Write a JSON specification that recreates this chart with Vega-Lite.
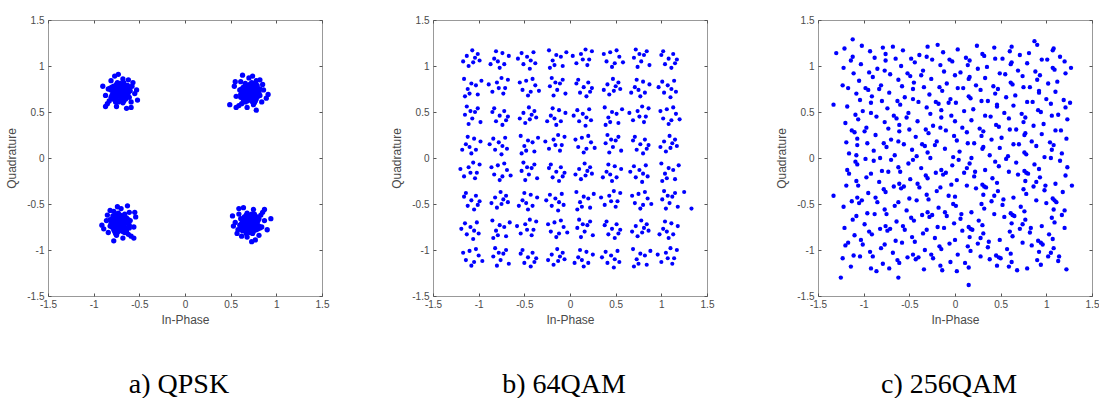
{
"$schema":"https://vega.github.io/schema/vega-lite/v6.json",
"background":"white",
"padding":{"left":5,"top":14,"right":0,"bottom":0},
"spacing":60,
"config":{
"view":{"stroke":"#999999","strokeWidth":1},
"axis":{"grid":false,"domain":false,"ticks":true,"tickColor":"#555555","tickWidth":1,"tickSize":-3,"labelFont":"Liberation Sans","labelFontSize":10,"labelColor":"#4a4a4a","labelFlush":false,"labelOverlap":false,"titleFont":"Liberation Sans","titleFontSize":12,"titleFontWeight":"normal","titleColor":"#4a4a4a"},
"axisX":{"labelPadding":6,"titlePadding":5},
"axisY":{"labelPadding":7,"titlePadding":8}
},
"datasets":{
"q":[
{"x":-0.71,"y":0.71},{"x":-0.67,"y":0.73},{"x":-0.74,"y":0.75},{"x":-0.69,"y":0.65},{"x":-0.77,"y":0.69},{"x":-0.64,"y":0.77},{"x":-0.78,"y":0.78},{"x":-0.65,"y":0.64},{"x":-0.76,"y":0.64},{"x":-0.62,"y":0.71},{"x":-0.80,"y":0.68},{"x":-0.68,"y":0.80},{"x":-0.73,"y":0.61},{"x":-0.61,"y":0.76},{"x":-0.81,"y":0.74},{"x":-0.66,"y":0.68},{"x":-0.74,"y":0.71},{"x":-0.71,"y":0.77},{"x":-0.68,"y":0.76},{"x":-0.77,"y":0.74},{"x":-0.63,"y":0.68},{"x":-0.79,"y":0.64},{"x":-0.70,"y":0.62},{"x":-0.75,"y":0.80},{"x":-0.63,"y":0.79},{"x":-0.65,"y":0.74},{"x":-0.72,"y":0.74},{"x":-0.70,"y":0.72},{"x":-0.80,"y":0.77},{"x":-0.67,"y":0.62},{"x":-0.69,"y":0.69},{"x":-0.73,"y":0.67},{"x":-0.66,"y":0.79},{"x":-0.76,"y":0.76},{"x":-0.63,"y":0.74},{"x":-0.79,"y":0.71},{"x":-0.68,"y":0.60},{"x":-0.74,"y":0.82},{"x":-0.61,"y":0.66},{"x":-0.81,"y":0.66},{"x":-0.71,"y":0.81},{"x":-0.71,"y":0.63},{"x":-0.64,"y":0.66},{"x":-0.78,"y":0.67},{"x":-0.67,"y":0.82},{"x":-0.76,"y":0.61},{"x":-0.60,"y":0.73},{"x":-0.82,"y":0.76},{"x":-0.73,"y":0.78},{"x":-0.65,"y":0.70},{"x":-0.58,"y":0.78},{"x":-0.84,"y":0.75},{"x":-0.59,"y":0.61},{"x":-0.83,"y":0.62},{"x":-0.68,"y":0.86},{"x":-0.75,"y":0.56},{"x":-0.55,"y":0.70},{"x":-0.87,"y":0.68},{"x":-0.62,"y":0.85},{"x":-0.81,"y":0.84},{"x":-0.57,"y":0.82},{"x":-0.85,"y":0.59},{"x":-0.53,"y":0.74},{"x":-0.90,"y":0.78},{"x":-0.64,"y":0.54},{"x":-0.77,"y":0.89},{"x":-0.52,"y":0.63},{"x":-0.87,"y":0.56},{"x":-0.59,"y":0.55},{"x":-0.73,"y":0.91},
{"x":0.71,"y":0.71},{"x":0.73,"y":0.75},{"x":0.75,"y":0.68},{"x":0.65,"y":0.73},{"x":0.69,"y":0.65},{"x":0.77,"y":0.78},{"x":0.78,"y":0.64},{"x":0.64,"y":0.77},{"x":0.64,"y":0.66},{"x":0.71,"y":0.80},{"x":0.68,"y":0.62},{"x":0.80,"y":0.74},{"x":0.61,"y":0.69},{"x":0.76,"y":0.81},{"x":0.74,"y":0.61},{"x":0.68,"y":0.76},{"x":0.71,"y":0.68},{"x":0.77,"y":0.71},{"x":0.76,"y":0.74},{"x":0.74,"y":0.65},{"x":0.68,"y":0.79},{"x":0.64,"y":0.63},{"x":0.62,"y":0.72},{"x":0.80,"y":0.67},{"x":0.79,"y":0.79},{"x":0.74,"y":0.77},{"x":0.74,"y":0.70},{"x":0.72,"y":0.72},{"x":0.77,"y":0.62},{"x":0.62,"y":0.75},{"x":0.69,"y":0.73},{"x":0.67,"y":0.69},{"x":0.79,"y":0.76},{"x":0.76,"y":0.66},{"x":0.74,"y":0.79},{"x":0.71,"y":0.63},{"x":0.60,"y":0.74},{"x":0.82,"y":0.68},{"x":0.66,"y":0.81},{"x":0.66,"y":0.61},{"x":0.81,"y":0.71},{"x":0.63,"y":0.71},{"x":0.66,"y":0.78},{"x":0.67,"y":0.64},{"x":0.82,"y":0.75},{"x":0.61,"y":0.66},{"x":0.73,"y":0.82},{"x":0.76,"y":0.60},{"x":0.78,"y":0.69},{"x":0.70,"y":0.77},{"x":0.78,"y":0.84},{"x":0.75,"y":0.58},{"x":0.61,"y":0.83},{"x":0.62,"y":0.59},{"x":0.86,"y":0.74},{"x":0.56,"y":0.67},{"x":0.70,"y":0.87},{"x":0.68,"y":0.55},{"x":0.85,"y":0.80},{"x":0.84,"y":0.61},{"x":0.82,"y":0.85},{"x":0.59,"y":0.57},{"x":0.74,"y":0.89},{"x":0.78,"y":0.52},{"x":0.54,"y":0.78},{"x":0.89,"y":0.65},{"x":0.63,"y":0.90},{"x":0.56,"y":0.55},{"x":0.55,"y":0.83},{"x":0.91,"y":0.69},{"x":0.49,"y":0.58},
{"x":-0.71,"y":-0.71},{"x":-0.73,"y":-0.67},{"x":-0.75,"y":-0.74},{"x":-0.65,"y":-0.69},{"x":-0.69,"y":-0.77},{"x":-0.77,"y":-0.64},{"x":-0.78,"y":-0.78},{"x":-0.64,"y":-0.65},{"x":-0.64,"y":-0.76},{"x":-0.71,"y":-0.62},{"x":-0.68,"y":-0.80},{"x":-0.80,"y":-0.68},{"x":-0.61,"y":-0.73},{"x":-0.76,"y":-0.61},{"x":-0.74,"y":-0.81},{"x":-0.68,"y":-0.66},{"x":-0.71,"y":-0.74},{"x":-0.77,"y":-0.71},{"x":-0.76,"y":-0.68},{"x":-0.74,"y":-0.77},{"x":-0.68,"y":-0.63},{"x":-0.64,"y":-0.79},{"x":-0.62,"y":-0.70},{"x":-0.80,"y":-0.75},{"x":-0.79,"y":-0.63},{"x":-0.74,"y":-0.65},{"x":-0.74,"y":-0.72},{"x":-0.72,"y":-0.70},{"x":-0.77,"y":-0.80},{"x":-0.62,"y":-0.67},{"x":-0.69,"y":-0.69},{"x":-0.67,"y":-0.73},{"x":-0.79,"y":-0.66},{"x":-0.76,"y":-0.76},{"x":-0.74,"y":-0.63},{"x":-0.71,"y":-0.79},{"x":-0.60,"y":-0.68},{"x":-0.82,"y":-0.74},{"x":-0.66,"y":-0.61},{"x":-0.66,"y":-0.81},{"x":-0.81,"y":-0.71},{"x":-0.63,"y":-0.71},{"x":-0.66,"y":-0.64},{"x":-0.67,"y":-0.78},{"x":-0.82,"y":-0.67},{"x":-0.61,"y":-0.76},{"x":-0.73,"y":-0.60},{"x":-0.76,"y":-0.82},{"x":-0.78,"y":-0.73},{"x":-0.70,"y":-0.65},{"x":-0.78,"y":-0.58},{"x":-0.75,"y":-0.84},{"x":-0.61,"y":-0.59},{"x":-0.62,"y":-0.83},{"x":-0.86,"y":-0.68},{"x":-0.56,"y":-0.75},{"x":-0.70,"y":-0.55},{"x":-0.68,"y":-0.87},{"x":-0.85,"y":-0.62},{"x":-0.84,"y":-0.81},{"x":-0.82,"y":-0.57},{"x":-0.59,"y":-0.85},{"x":-0.74,"y":-0.53},{"x":-0.78,"y":-0.90},{"x":-0.54,"y":-0.64},{"x":-0.89,"y":-0.77},{"x":-0.63,"y":-0.52},{"x":-0.56,"y":-0.87},{"x":-0.55,"y":-0.59},{"x":-0.91,"y":-0.73},
{"x":0.71,"y":-0.71},{"x":0.67,"y":-0.73},{"x":0.74,"y":-0.75},{"x":0.69,"y":-0.65},{"x":0.77,"y":-0.69},{"x":0.64,"y":-0.77},{"x":0.78,"y":-0.78},{"x":0.65,"y":-0.64},{"x":0.76,"y":-0.64},{"x":0.62,"y":-0.71},{"x":0.80,"y":-0.68},{"x":0.68,"y":-0.80},{"x":0.73,"y":-0.61},{"x":0.61,"y":-0.76},{"x":0.81,"y":-0.74},{"x":0.66,"y":-0.68},{"x":0.74,"y":-0.71},{"x":0.71,"y":-0.77},{"x":0.68,"y":-0.76},{"x":0.77,"y":-0.74},{"x":0.63,"y":-0.68},{"x":0.79,"y":-0.64},{"x":0.70,"y":-0.62},{"x":0.75,"y":-0.80},{"x":0.63,"y":-0.79},{"x":0.65,"y":-0.74},{"x":0.72,"y":-0.74},{"x":0.70,"y":-0.72},{"x":0.80,"y":-0.77},{"x":0.67,"y":-0.62},{"x":0.69,"y":-0.69},{"x":0.73,"y":-0.67},{"x":0.66,"y":-0.79},{"x":0.76,"y":-0.76},{"x":0.63,"y":-0.74},{"x":0.79,"y":-0.71},{"x":0.68,"y":-0.60},{"x":0.74,"y":-0.82},{"x":0.61,"y":-0.66},{"x":0.81,"y":-0.66},{"x":0.71,"y":-0.81},{"x":0.71,"y":-0.63},{"x":0.64,"y":-0.66},{"x":0.78,"y":-0.67},{"x":0.67,"y":-0.82},{"x":0.76,"y":-0.61},{"x":0.60,"y":-0.73},{"x":0.82,"y":-0.76},{"x":0.73,"y":-0.78},{"x":0.65,"y":-0.70},{"x":0.58,"y":-0.78},{"x":0.84,"y":-0.75},{"x":0.59,"y":-0.61},{"x":0.83,"y":-0.62},{"x":0.68,"y":-0.86},{"x":0.75,"y":-0.56},{"x":0.55,"y":-0.70},{"x":0.87,"y":-0.68},{"x":0.62,"y":-0.85},{"x":0.81,"y":-0.84},{"x":0.57,"y":-0.82},{"x":0.85,"y":-0.59},{"x":0.53,"y":-0.74},{"x":0.90,"y":-0.78},{"x":0.64,"y":-0.54},{"x":0.77,"y":-0.89},{"x":0.52,"y":-0.63},{"x":0.87,"y":-0.56},{"x":0.59,"y":-0.55},{"x":0.73,"y":-0.91},{"x":0.94,"y":-0.66}
],
"m":[
{"x":-1.13,"y":1.11},{"x":-1.06,"y":1.04},{"x":-1.01,"y":1.13},{"x":-1.11,"y":1.00},{"x":-0.99,"y":1.06},{"x":-1.17,"y":1.05},{"x":-1.07,"y":1.17},{"x":-1.04,"y":1.09},
{"x":-0.74,"y":1.14},{"x":-0.83,"y":1.08},{"x":-0.72,"y":1.02},{"x":-0.79,"y":1.05},{"x":-0.67,"y":1.11},{"x":-0.81,"y":1.16},{"x":-0.77,"y":0.98},{"x":-0.87,"y":1.02},
{"x":-0.53,"y":1.14},{"x":-0.40,"y":1.15},{"x":-0.47,"y":1.10},{"x":-0.38,"y":1.03},{"x":-0.51,"y":1.02},{"x":-0.43,"y":1.06},{"x":-0.57,"y":1.08},{"x":-0.44,"y":0.97},
{"x":-0.15,"y":1.12},{"x":-0.08,"y":1.00},{"x":-0.23,"y":1.17},{"x":-0.19,"y":1.06},{"x":-0.10,"y":1.10},{"x":-0.04,"y":1.15},{"x":-0.17,"y":1.01},{"x":-0.22,"y":0.98},
{"x":0.21,"y":1.07},{"x":0.12,"y":1.13},{"x":0.07,"y":1.03},{"x":0.17,"y":1.18},{"x":0.19,"y":1.01},{"x":0.14,"y":1.07},{"x":0.24,"y":1.16},{"x":0.03,"y":1.11},
{"x":0.44,"y":1.15},{"x":0.54,"y":1.10},{"x":0.40,"y":1.05},{"x":0.49,"y":1.03},{"x":0.37,"y":1.13},{"x":0.51,"y":1.17},{"x":0.46,"y":0.99},{"x":0.58,"y":1.04},
{"x":0.78,"y":1.05},{"x":0.72,"y":1.18},{"x":0.84,"y":1.16},{"x":0.70,"y":1.09},{"x":0.81,"y":1.12},{"x":0.74,"y":0.99},{"x":0.87,"y":1.01},{"x":0.76,"y":1.13},
{"x":1.13,"y":1.13},{"x":1.04,"y":1.02},{"x":1.17,"y":1.07},{"x":1.00,"y":1.12},{"x":1.08,"y":1.08},{"x":1.11,"y":0.98},{"x":1.02,"y":1.16},{"x":1.15,"y":1.03},
{"x":-1.08,"y":0.81},{"x":-1.01,"y":0.69},{"x":-1.16,"y":0.86},{"x":-1.12,"y":0.75},{"x":-1.03,"y":0.79},{"x":-0.97,"y":0.84},{"x":-1.10,"y":0.70},{"x":-1.15,"y":0.67},
{"x":-0.71,"y":0.76},{"x":-0.80,"y":0.82},{"x":-0.85,"y":0.72},{"x":-0.75,"y":0.87},{"x":-0.73,"y":0.70},{"x":-0.78,"y":0.76},{"x":-0.68,"y":0.85},{"x":-0.89,"y":0.80},
{"x":-0.48,"y":0.84},{"x":-0.38,"y":0.79},{"x":-0.52,"y":0.74},{"x":-0.43,"y":0.72},{"x":-0.55,"y":0.82},{"x":-0.41,"y":0.86},{"x":-0.46,"y":0.68},{"x":-0.34,"y":0.73},
{"x":-0.14,"y":0.74},{"x":-0.20,"y":0.87},{"x":-0.08,"y":0.85},{"x":-0.22,"y":0.78},{"x":-0.11,"y":0.81},{"x":-0.18,"y":0.68},{"x":-0.05,"y":0.70},{"x":-0.16,"y":0.82},
{"x":0.20,"y":0.82},{"x":0.11,"y":0.71},{"x":0.24,"y":0.76},{"x":0.07,"y":0.81},{"x":0.15,"y":0.77},{"x":0.18,"y":0.67},{"x":0.09,"y":0.85},{"x":0.22,"y":0.72},
{"x":0.41,"y":0.80},{"x":0.48,"y":0.73},{"x":0.53,"y":0.82},{"x":0.43,"y":0.69},{"x":0.55,"y":0.75},{"x":0.37,"y":0.74},{"x":0.47,"y":0.86},{"x":0.50,"y":0.78},
{"x":0.80,"y":0.83},{"x":0.71,"y":0.77},{"x":0.82,"y":0.71},{"x":0.75,"y":0.74},{"x":0.87,"y":0.80},{"x":0.73,"y":0.85},{"x":0.77,"y":0.67},{"x":0.67,"y":0.71},
{"x":1.01,"y":0.83},{"x":1.14,"y":0.84},{"x":1.07,"y":0.79},{"x":1.16,"y":0.72},{"x":1.03,"y":0.71},{"x":1.11,"y":0.75},{"x":0.97,"y":0.77},{"x":1.10,"y":0.66},
{"x":-1.07,"y":0.43},{"x":-1.13,"y":0.56},{"x":-1.01,"y":0.54},{"x":-1.15,"y":0.47},{"x":-1.04,"y":0.50},{"x":-1.11,"y":0.37},{"x":-0.98,"y":0.39},{"x":-1.09,"y":0.51},
{"x":-0.72,"y":0.51},{"x":-0.81,"y":0.40},{"x":-0.68,"y":0.45},{"x":-0.85,"y":0.50},{"x":-0.77,"y":0.46},{"x":-0.74,"y":0.36},{"x":-0.83,"y":0.54},{"x":-0.70,"y":0.41},
{"x":-0.51,"y":0.49},{"x":-0.44,"y":0.42},{"x":-0.39,"y":0.51},{"x":-0.49,"y":0.38},{"x":-0.37,"y":0.44},{"x":-0.55,"y":0.43},{"x":-0.45,"y":0.55},{"x":-0.42,"y":0.47},
{"x":-0.12,"y":0.52},{"x":-0.21,"y":0.46},{"x":-0.10,"y":0.40},{"x":-0.17,"y":0.43},{"x":-0.05,"y":0.49},{"x":-0.19,"y":0.54},{"x":-0.15,"y":0.36},{"x":-0.25,"y":0.40},
{"x":0.08,"y":0.52},{"x":0.21,"y":0.53},{"x":0.14,"y":0.48},{"x":0.23,"y":0.41},{"x":0.10,"y":0.40},{"x":0.18,"y":0.44},{"x":0.04,"y":0.46},{"x":0.17,"y":0.35},
{"x":0.46,"y":0.50},{"x":0.53,"y":0.38},{"x":0.38,"y":0.55},{"x":0.42,"y":0.44},{"x":0.51,"y":0.48},{"x":0.57,"y":0.53},{"x":0.44,"y":0.39},{"x":0.39,"y":0.36},
{"x":0.83,"y":0.45},{"x":0.74,"y":0.51},{"x":0.69,"y":0.41},{"x":0.79,"y":0.56},{"x":0.81,"y":0.39},{"x":0.76,"y":0.45},{"x":0.86,"y":0.54},{"x":0.65,"y":0.49},
{"x":1.06,"y":0.53},{"x":1.16,"y":0.48},{"x":1.02,"y":0.43},{"x":1.11,"y":0.41},{"x":0.99,"y":0.51},{"x":1.13,"y":0.55},{"x":1.08,"y":0.37},{"x":1.20,"y":0.42},
{"x":-1.05,"y":0.21},{"x":-1.14,"y":0.15},{"x":-1.03,"y":0.09},{"x":-1.10,"y":0.12},{"x":-0.98,"y":0.18},{"x":-1.12,"y":0.23},{"x":-1.08,"y":0.05},{"x":-1.18,"y":0.09},
{"x":-0.84,"y":0.21},{"x":-0.71,"y":0.22},{"x":-0.78,"y":0.17},{"x":-0.69,"y":0.10},{"x":-0.82,"y":0.09},{"x":-0.74,"y":0.13},{"x":-0.88,"y":0.15},{"x":-0.75,"y":0.04},
{"x":-0.46,"y":0.19},{"x":-0.39,"y":0.07},{"x":-0.54,"y":0.24},{"x":-0.50,"y":0.13},{"x":-0.41,"y":0.17},{"x":-0.35,"y":0.22},{"x":-0.48,"y":0.08},{"x":-0.53,"y":0.05},
{"x":-0.09,"y":0.14},{"x":-0.18,"y":0.20},{"x":-0.23,"y":0.10},{"x":-0.13,"y":0.25},{"x":-0.11,"y":0.08},{"x":-0.16,"y":0.14},{"x":-0.06,"y":0.23},{"x":-0.27,"y":0.18},
{"x":0.13,"y":0.22},{"x":0.23,"y":0.17},{"x":0.09,"y":0.12},{"x":0.18,"y":0.10},{"x":0.06,"y":0.20},{"x":0.20,"y":0.24},{"x":0.15,"y":0.06},{"x":0.27,"y":0.11},
{"x":0.47,"y":0.12},{"x":0.41,"y":0.25},{"x":0.53,"y":0.23},{"x":0.39,"y":0.16},{"x":0.50,"y":0.19},{"x":0.43,"y":0.06},{"x":0.56,"y":0.08},{"x":0.45,"y":0.20},
{"x":0.82,"y":0.20},{"x":0.73,"y":0.09},{"x":0.86,"y":0.14},{"x":0.69,"y":0.19},{"x":0.77,"y":0.15},{"x":0.80,"y":0.05},{"x":0.71,"y":0.23},{"x":0.84,"y":0.10},
{"x":1.03,"y":0.18},{"x":1.10,"y":0.11},{"x":1.15,"y":0.20},{"x":1.05,"y":0.07},{"x":1.17,"y":0.13},{"x":0.99,"y":0.12},{"x":1.09,"y":0.24},{"x":1.12,"y":0.16},
{"x":-1.02,"y":-0.16},{"x":-1.11,"y":-0.10},{"x":-1.16,"y":-0.20},{"x":-1.06,"y":-0.05},{"x":-1.04,"y":-0.22},{"x":-1.09,"y":-0.16},{"x":-0.99,"y":-0.07},{"x":-1.20,"y":-0.12},
{"x":-0.79,"y":-0.08},{"x":-0.69,"y":-0.13},{"x":-0.83,"y":-0.18},{"x":-0.74,"y":-0.20},{"x":-0.86,"y":-0.10},{"x":-0.72,"y":-0.06},{"x":-0.77,"y":-0.24},{"x":-0.65,"y":-0.19},
{"x":-0.45,"y":-0.18},{"x":-0.51,"y":-0.05},{"x":-0.39,"y":-0.07},{"x":-0.53,"y":-0.14},{"x":-0.42,"y":-0.11},{"x":-0.49,"y":-0.24},{"x":-0.36,"y":-0.22},{"x":-0.47,"y":-0.10},
{"x":-0.10,"y":-0.10},{"x":-0.19,"y":-0.21},{"x":-0.06,"y":-0.16},{"x":-0.23,"y":-0.11},{"x":-0.15,"y":-0.15},{"x":-0.12,"y":-0.25},{"x":-0.21,"y":-0.07},{"x":-0.08,"y":-0.20},
{"x":0.10,"y":-0.12},{"x":0.17,"y":-0.19},{"x":0.22,"y":-0.10},{"x":0.12,"y":-0.23},{"x":0.24,"y":-0.17},{"x":0.06,"y":-0.18},{"x":0.16,"y":-0.06},{"x":0.19,"y":-0.14},
{"x":0.49,"y":-0.09},{"x":0.40,"y":-0.15},{"x":0.51,"y":-0.21},{"x":0.44,"y":-0.18},{"x":0.56,"y":-0.12},{"x":0.42,"y":-0.07},{"x":0.46,"y":-0.25},{"x":0.36,"y":-0.21},
{"x":0.70,"y":-0.09},{"x":0.83,"y":-0.08},{"x":0.76,"y":-0.13},{"x":0.85,"y":-0.20},{"x":0.72,"y":-0.21},{"x":0.80,"y":-0.17},{"x":0.66,"y":-0.15},{"x":0.79,"y":-0.26},
{"x":1.08,"y":-0.11},{"x":1.15,"y":-0.23},{"x":1.00,"y":-0.06},{"x":1.04,"y":-0.17},{"x":1.13,"y":-0.13},{"x":1.19,"y":-0.08},{"x":1.06,"y":-0.22},{"x":1.01,"y":-0.25},
{"x":-1.03,"y":-0.41},{"x":-1.12,"y":-0.52},{"x":-0.99,"y":-0.47},{"x":-1.16,"y":-0.42},{"x":-1.08,"y":-0.46},{"x":-1.05,"y":-0.56},{"x":-1.14,"y":-0.38},{"x":-1.01,"y":-0.51},
{"x":-0.82,"y":-0.43},{"x":-0.75,"y":-0.50},{"x":-0.70,"y":-0.41},{"x":-0.80,"y":-0.54},{"x":-0.68,"y":-0.48},{"x":-0.86,"y":-0.49},{"x":-0.76,"y":-0.37},{"x":-0.73,"y":-0.45},
{"x":-0.43,"y":-0.40},{"x":-0.52,"y":-0.46},{"x":-0.41,"y":-0.52},{"x":-0.48,"y":-0.49},{"x":-0.36,"y":-0.43},{"x":-0.50,"y":-0.38},{"x":-0.46,"y":-0.56},{"x":-0.56,"y":-0.52},
{"x":-0.22,"y":-0.40},{"x":-0.09,"y":-0.39},{"x":-0.16,"y":-0.44},{"x":-0.07,"y":-0.51},{"x":-0.20,"y":-0.52},{"x":-0.12,"y":-0.48},{"x":-0.26,"y":-0.46},{"x":-0.13,"y":-0.57},
{"x":0.15,"y":-0.42},{"x":0.22,"y":-0.54},{"x":0.07,"y":-0.37},{"x":0.11,"y":-0.48},{"x":0.20,"y":-0.44},{"x":0.26,"y":-0.39},{"x":0.13,"y":-0.53},{"x":0.08,"y":-0.56},
{"x":0.52,"y":-0.47},{"x":0.43,"y":-0.41},{"x":0.38,"y":-0.51},{"x":0.48,"y":-0.36},{"x":0.50,"y":-0.53},{"x":0.45,"y":-0.47},{"x":0.55,"y":-0.38},{"x":0.34,"y":-0.43},
{"x":0.75,"y":-0.39},{"x":0.85,"y":-0.44},{"x":0.71,"y":-0.49},{"x":0.80,"y":-0.51},{"x":0.68,"y":-0.41},{"x":0.82,"y":-0.37},{"x":0.77,"y":-0.55},{"x":0.89,"y":-0.50},
{"x":1.09,"y":-0.49},{"x":1.03,"y":-0.36},{"x":1.15,"y":-0.38},{"x":1.01,"y":-0.45},{"x":1.12,"y":-0.42},{"x":1.05,"y":-0.55},{"x":1.18,"y":-0.53},{"x":1.07,"y":-0.41},{"x":1.33,"y":-0.55},{"x":1.25,"y":-0.37},
{"x":-1.15,"y":-0.71},{"x":-1.02,"y":-0.70},{"x":-1.09,"y":-0.75},{"x":-1.00,"y":-0.82},{"x":-1.13,"y":-0.83},{"x":-1.05,"y":-0.79},{"x":-1.19,"y":-0.77},{"x":-1.06,"y":-0.88},
{"x":-0.77,"y":-0.73},{"x":-0.70,"y":-0.85},{"x":-0.85,"y":-0.68},{"x":-0.81,"y":-0.79},{"x":-0.72,"y":-0.75},{"x":-0.66,"y":-0.70},{"x":-0.79,"y":-0.84},{"x":-0.84,"y":-0.87},
{"x":-0.40,"y":-0.78},{"x":-0.49,"y":-0.72},{"x":-0.54,"y":-0.82},{"x":-0.44,"y":-0.67},{"x":-0.42,"y":-0.84},{"x":-0.47,"y":-0.78},{"x":-0.37,"y":-0.69},{"x":-0.58,"y":-0.74},
{"x":-0.17,"y":-0.70},{"x":-0.07,"y":-0.75},{"x":-0.21,"y":-0.80},{"x":-0.12,"y":-0.82},{"x":-0.24,"y":-0.72},{"x":-0.10,"y":-0.68},{"x":-0.15,"y":-0.86},{"x":-0.03,"y":-0.81},
{"x":0.16,"y":-0.80},{"x":0.10,"y":-0.67},{"x":0.22,"y":-0.69},{"x":0.08,"y":-0.76},{"x":0.19,"y":-0.73},{"x":0.12,"y":-0.86},{"x":0.25,"y":-0.84},{"x":0.14,"y":-0.72},
{"x":0.51,"y":-0.72},{"x":0.42,"y":-0.83},{"x":0.55,"y":-0.78},{"x":0.38,"y":-0.73},{"x":0.46,"y":-0.77},{"x":0.49,"y":-0.87},{"x":0.40,"y":-0.69},{"x":0.53,"y":-0.82},
{"x":0.72,"y":-0.74},{"x":0.79,"y":-0.81},{"x":0.84,"y":-0.72},{"x":0.74,"y":-0.85},{"x":0.86,"y":-0.79},{"x":0.68,"y":-0.80},{"x":0.78,"y":-0.68},{"x":0.81,"y":-0.76},
{"x":1.11,"y":-0.71},{"x":1.02,"y":-0.77},{"x":1.13,"y":-0.83},{"x":1.06,"y":-0.80},{"x":1.18,"y":-0.74},{"x":1.04,"y":-0.69},{"x":1.08,"y":-0.87},{"x":0.98,"y":-0.83},
{"x":-1.10,"y":-1.01},{"x":-1.00,"y":-1.06},{"x":-1.14,"y":-1.11},{"x":-1.05,"y":-1.13},{"x":-1.17,"y":-1.03},{"x":-1.03,"y":-0.99},{"x":-1.08,"y":-1.17},{"x":-0.96,"y":-1.12},
{"x":-0.76,"y":-1.11},{"x":-0.82,"y":-0.98},{"x":-0.70,"y":-1.00},{"x":-0.84,"y":-1.07},{"x":-0.73,"y":-1.04},{"x":-0.80,"y":-1.17},{"x":-0.67,"y":-1.15},{"x":-0.78,"y":-1.03},
{"x":-0.41,"y":-1.03},{"x":-0.50,"y":-1.14},{"x":-0.37,"y":-1.09},{"x":-0.54,"y":-1.04},{"x":-0.46,"y":-1.08},{"x":-0.43,"y":-1.18},{"x":-0.52,"y":-1.00},{"x":-0.39,"y":-1.13},
{"x":-0.20,"y":-1.05},{"x":-0.13,"y":-1.12},{"x":-0.08,"y":-1.03},{"x":-0.18,"y":-1.16},{"x":-0.06,"y":-1.10},{"x":-0.24,"y":-1.11},{"x":-0.14,"y":-0.99},{"x":-0.11,"y":-1.07},
{"x":0.18,"y":-1.02},{"x":0.09,"y":-1.08},{"x":0.20,"y":-1.14},{"x":0.13,"y":-1.11},{"x":0.25,"y":-1.05},{"x":0.11,"y":-1.00},{"x":0.15,"y":-1.18},{"x":0.05,"y":-1.14},
{"x":0.39,"y":-1.02},{"x":0.52,"y":-1.01},{"x":0.45,"y":-1.06},{"x":0.54,"y":-1.13},{"x":0.41,"y":-1.14},{"x":0.49,"y":-1.10},{"x":0.35,"y":-1.08},{"x":0.48,"y":-1.19},
{"x":0.77,"y":-1.04},{"x":0.84,"y":-1.16},{"x":0.69,"y":-0.99},{"x":0.73,"y":-1.10},{"x":0.82,"y":-1.06},{"x":0.88,"y":-1.01},{"x":0.75,"y":-1.15},{"x":0.70,"y":-1.18},
{"x":1.14,"y":-1.09},{"x":1.05,"y":-1.03},{"x":1.00,"y":-1.13},{"x":1.10,"y":-0.98},{"x":1.12,"y":-1.15},{"x":1.07,"y":-1.09},{"x":1.17,"y":-1.00},{"x":0.96,"y":-1.05}
],
"s":[
{"x":-1.12,"y":1.10},{"x":-1.21,"y":1.19},{"x":-1.02,"y":1.22},{"x":-0.93,"y":1.16},{"x":-0.79,"y":1.20},{"x":-0.88,"y":1.09},{"x":-0.76,"y":1.13},{"x":-0.68,"y":1.21},{"x":-0.48,"y":1.08},{"x":-0.57,"y":1.17},{"x":-0.39,"y":1.12},{"x":-0.30,"y":1.21},{"x":-0.19,"y":1.23},{"x":-0.31,"y":1.10},{"x":-0.13,"y":1.15},{"x":-0.06,"y":1.07},
{"x":0.03,"y":1.18},{"x":0.12,"y":1.09},{"x":0.30,"y":1.13},{"x":0.24,"y":1.22},{"x":0.43,"y":1.20},{"x":0.32,"y":1.11},{"x":0.52,"y":1.08},{"x":0.60,"y":1.16},{"x":0.62,"y":1.21},{"x":0.71,"y":1.12},{"x":0.81,"y":1.14},{"x":0.90,"y":1.23},{"x":1.08,"y":1.19},{"x":0.95,"y":1.07},{"x":1.15,"y":1.10},{"x":1.07,"y":1.17},
{"x":-1.22,"y":0.98},{"x":-1.14,"y":1.06},{"x":-0.94,"y":0.93},{"x":-1.03,"y":1.02},{"x":-0.85,"y":0.97},{"x":-0.76,"y":1.06},{"x":-0.65,"y":1.08},{"x":-0.77,"y":0.95},{"x":-0.59,"y":1.00},{"x":-0.52,"y":0.92},{"x":-0.35,"y":0.95},{"x":-0.44,"y":1.04},{"x":-0.25,"y":1.07},{"x":-0.16,"y":1.01},{"x":-0.03,"y":1.05},{"x":-0.12,"y":0.94},
{"x":0.06,"y":0.93},{"x":0.14,"y":1.01},{"x":0.16,"y":1.06},{"x":0.25,"y":0.97},{"x":0.35,"y":0.99},{"x":0.44,"y":1.08},{"x":0.62,"y":1.04},{"x":0.49,"y":0.92},{"x":0.69,"y":0.95},{"x":0.61,"y":1.02},{"x":0.79,"y":1.03},{"x":0.88,"y":0.94},{"x":1.07,"y":0.98},{"x":1.01,"y":1.07},{"x":1.20,"y":1.05},{"x":1.09,"y":0.96},
{"x":-1.11,"y":0.92},{"x":-1.23,"y":0.79},{"x":-1.05,"y":0.84},{"x":-0.98,"y":0.76},{"x":-0.81,"y":0.79},{"x":-0.90,"y":0.88},{"x":-0.71,"y":0.91},{"x":-0.62,"y":0.85},{"x":-0.49,"y":0.89},{"x":-0.58,"y":0.78},{"x":-0.45,"y":0.82},{"x":-0.37,"y":0.90},{"x":-0.17,"y":0.77},{"x":-0.26,"y":0.86},{"x":-0.09,"y":0.81},{"x":0.00,"y":0.90},
{"x":0.16,"y":0.88},{"x":0.03,"y":0.76},{"x":0.23,"y":0.79},{"x":0.15,"y":0.86},{"x":0.33,"y":0.87},{"x":0.42,"y":0.78},{"x":0.61,"y":0.82},{"x":0.55,"y":0.91},{"x":0.74,"y":0.89},{"x":0.63,"y":0.80},{"x":0.82,"y":0.77},{"x":0.90,"y":0.85},{"x":0.93,"y":0.90},{"x":1.02,"y":0.81},{"x":1.12,"y":0.83},{"x":1.21,"y":0.92},
{"x":-1.17,"y":0.76},{"x":-1.08,"y":0.70},{"x":-0.95,"y":0.74},{"x":-1.04,"y":0.63},{"x":-0.91,"y":0.67},{"x":-0.83,"y":0.75},{"x":-0.63,"y":0.62},{"x":-0.72,"y":0.71},{"x":-0.55,"y":0.66},{"x":-0.46,"y":0.75},{"x":-0.34,"y":0.77},{"x":-0.46,"y":0.64},{"x":-0.28,"y":0.69},{"x":-0.21,"y":0.61},{"x":-0.05,"y":0.64},{"x":-0.14,"y":0.73},
{"x":0.15,"y":0.67},{"x":0.09,"y":0.76},{"x":0.28,"y":0.74},{"x":0.17,"y":0.65},{"x":0.36,"y":0.62},{"x":0.44,"y":0.70},{"x":0.47,"y":0.75},{"x":0.56,"y":0.66},{"x":0.66,"y":0.68},{"x":0.75,"y":0.77},{"x":0.92,"y":0.73},{"x":0.79,"y":0.61},{"x":1.00,"y":0.64},{"x":0.92,"y":0.71},{"x":1.10,"y":0.72},{"x":1.19,"y":0.63},
{"x":-1.09,"y":0.47},{"x":-1.18,"y":0.56},{"x":-1.01,"y":0.51},{"x":-0.92,"y":0.60},{"x":-0.80,"y":0.62},{"x":-0.92,"y":0.49},{"x":-0.74,"y":0.54},{"x":-0.67,"y":0.46},{"x":-0.51,"y":0.49},{"x":-0.60,"y":0.58},{"x":-0.40,"y":0.61},{"x":-0.31,"y":0.55},{"x":-0.18,"y":0.59},{"x":-0.27,"y":0.48},{"x":-0.15,"y":0.52},{"x":-0.07,"y":0.60},
{"x":0.01,"y":0.60},{"x":0.10,"y":0.51},{"x":0.20,"y":0.53},{"x":0.29,"y":0.62},{"x":0.46,"y":0.58},{"x":0.33,"y":0.46},{"x":0.54,"y":0.49},{"x":0.46,"y":0.56},{"x":0.64,"y":0.57},{"x":0.73,"y":0.48},{"x":0.91,"y":0.52},{"x":0.85,"y":0.61},{"x":1.05,"y":0.59},{"x":0.94,"y":0.50},{"x":1.13,"y":0.47},{"x":1.21,"y":0.55},
{"x":-1.20,"y":0.38},{"x":-1.13,"y":0.30},{"x":-0.97,"y":0.33},{"x":-1.06,"y":0.42},{"x":-0.86,"y":0.45},{"x":-0.77,"y":0.39},{"x":-0.64,"y":0.43},{"x":-0.73,"y":0.32},{"x":-0.61,"y":0.36},{"x":-0.53,"y":0.44},{"x":-0.32,"y":0.31},{"x":-0.41,"y":0.40},{"x":-0.24,"y":0.35},{"x":-0.15,"y":0.44},{"x":-0.04,"y":0.46},{"x":-0.16,"y":0.33},
{"x":0.08,"y":0.33},{"x":0.00,"y":0.40},{"x":0.18,"y":0.41},{"x":0.27,"y":0.32},{"x":0.45,"y":0.36},{"x":0.39,"y":0.45},{"x":0.59,"y":0.43},{"x":0.48,"y":0.34},{"x":0.67,"y":0.31},{"x":0.75,"y":0.39},{"x":0.77,"y":0.44},{"x":0.86,"y":0.35},{"x":0.97,"y":0.37},{"x":1.06,"y":0.46},{"x":1.23,"y":0.42},{"x":1.10,"y":0.30},
{"x":-1.10,"y":0.28},{"x":-1.19,"y":0.17},{"x":-1.07,"y":0.21},{"x":-0.99,"y":0.29},{"x":-0.78,"y":0.16},{"x":-0.87,"y":0.25},{"x":-0.70,"y":0.20},{"x":-0.61,"y":0.29},{"x":-0.50,"y":0.31},{"x":-0.62,"y":0.18},{"x":-0.43,"y":0.23},{"x":-0.36,"y":0.15},{"x":-0.20,"y":0.18},{"x":-0.29,"y":0.27},{"x":-0.10,"y":0.30},{"x":-0.01,"y":0.24},
{"x":0.13,"y":0.28},{"x":0.02,"y":0.19},{"x":0.21,"y":0.16},{"x":0.29,"y":0.24},{"x":0.31,"y":0.29},{"x":0.40,"y":0.20},{"x":0.51,"y":0.22},{"x":0.60,"y":0.31},{"x":0.77,"y":0.27},{"x":0.64,"y":0.15},{"x":0.84,"y":0.18},{"x":0.76,"y":0.25},{"x":0.95,"y":0.26},{"x":1.04,"y":0.17},{"x":1.22,"y":0.21},{"x":1.16,"y":0.30},
{"x":-1.16,"y":0.05},{"x":-1.07,"y":0.14},{"x":-0.96,"y":0.16},{"x":-1.08,"y":0.03},{"x":-0.89,"y":0.08},{"x":-0.82,"y":0.00},{"x":-0.66,"y":0.03},{"x":-0.75,"y":0.12},{"x":-0.56,"y":0.15},{"x":-0.47,"y":0.09},{"x":-0.33,"y":0.13},{"x":-0.42,"y":0.02},{"x":-0.30,"y":0.06},{"x":-0.22,"y":0.14},{"x":-0.02,"y":0.01},{"x":-0.11,"y":0.10},
{"x":0.05,"y":0.07},{"x":0.14,"y":0.16},{"x":0.31,"y":0.12},{"x":0.18,"y":0.00},{"x":0.38,"y":0.03},{"x":0.30,"y":0.10},{"x":0.49,"y":0.11},{"x":0.58,"y":0.02},{"x":0.76,"y":0.06},{"x":0.70,"y":0.15},{"x":0.89,"y":0.13},{"x":0.78,"y":0.04},{"x":0.98,"y":0.01},{"x":1.06,"y":0.09},{"x":1.08,"y":0.14},{"x":1.17,"y":0.05},
{"x":-1.18,"y":-0.13},{"x":-1.09,"y":-0.04},{"x":-0.98,"y":-0.01},{"x":-1.07,"y":-0.07},{"x":-0.89,"y":-0.03},{"x":-0.80,"y":-0.14},{"x":-0.62,"y":-0.10},{"x":-0.70,"y":-0.02},{"x":-0.60,"y":-0.15},{"x":-0.51,"y":-0.06},{"x":-0.37,"y":-0.11},{"x":-0.46,"y":-0.02},{"x":-0.27,"y":0.00},{"x":-0.15,"y":-0.13},{"x":-0.03,"y":-0.08},{"x":-0.10,"y":-0.16},
{"x":0.13,"y":-0.11},{"x":0.04,"y":-0.02},{"x":0.16,"y":-0.06},{"x":0.22,"y":-0.15},{"x":0.33,"y":-0.13},{"x":0.44,"y":-0.04},{"x":0.56,"y":-0.01},{"x":0.48,"y":-0.09},{"x":0.76,"y":-0.14},{"x":0.67,"y":-0.05},{"x":0.87,"y":-0.07},{"x":0.78,"y":-0.16},{"x":0.92,"y":-0.12},{"x":1.05,"y":0.00},{"x":1.15,"y":-0.03},{"x":1.23,"y":-0.10},
{"x":-1.08,"y":-0.25},{"x":-1.16,"y":-0.17},{"x":-1.06,"y":-0.30},{"x":-0.97,"y":-0.21},{"x":-0.83,"y":-0.26},{"x":-0.92,"y":-0.17},{"x":-0.73,"y":-0.15},{"x":-0.61,"y":-0.28},{"x":-0.49,"y":-0.23},{"x":-0.56,"y":-0.31},{"x":-0.41,"y":-0.28},{"x":-0.32,"y":-0.19},{"x":-0.21,"y":-0.16},{"x":-0.30,"y":-0.22},{"x":-0.13,"y":-0.18},{"x":-0.04,"y":-0.29},
{"x":0.10,"y":-0.16},{"x":0.02,"y":-0.24},{"x":0.30,"y":-0.29},{"x":0.21,"y":-0.20},{"x":0.41,"y":-0.22},{"x":0.32,"y":-0.31},{"x":0.46,"y":-0.27},{"x":0.59,"y":-0.15},{"x":0.69,"y":-0.18},{"x":0.77,"y":-0.25},{"x":0.89,"y":-0.26},{"x":0.80,"y":-0.17},{"x":0.93,"y":-0.21},{"x":0.99,"y":-0.30},{"x":1.10,"y":-0.28},{"x":1.21,"y":-0.19},
{"x":-1.19,"y":-0.30},{"x":-1.07,"y":-0.43},{"x":-0.95,"y":-0.38},{"x":-1.02,"y":-0.46},{"x":-0.87,"y":-0.43},{"x":-0.78,"y":-0.34},{"x":-0.67,"y":-0.31},{"x":-0.76,"y":-0.37},{"x":-0.59,"y":-0.33},{"x":-0.50,"y":-0.44},{"x":-0.31,"y":-0.40},{"x":-0.39,"y":-0.32},{"x":-0.29,"y":-0.45},{"x":-0.20,"y":-0.36},{"x":-0.07,"y":-0.41},{"x":-0.16,"y":-0.32},
{"x":0.00,"y":-0.42},{"x":0.13,"y":-0.30},{"x":0.23,"y":-0.33},{"x":0.31,"y":-0.40},{"x":0.43,"y":-0.41},{"x":0.34,"y":-0.32},{"x":0.47,"y":-0.36},{"x":0.53,"y":-0.45},{"x":0.64,"y":-0.43},{"x":0.75,"y":-0.34},{"x":0.86,"y":-0.31},{"x":0.78,"y":-0.39},{"x":1.07,"y":-0.44},{"x":0.98,"y":-0.35},{"x":1.18,"y":-0.37},{"x":1.09,"y":-0.46},
{"x":-1.13,"y":-0.47},{"x":-1.22,"y":-0.53},{"x":-1.05,"y":-0.49},{"x":-0.96,"y":-0.60},{"x":-0.77,"y":-0.56},{"x":-0.85,"y":-0.48},{"x":-0.75,"y":-0.61},{"x":-0.66,"y":-0.52},{"x":-0.53,"y":-0.57},{"x":-0.62,"y":-0.48},{"x":-0.42,"y":-0.46},{"x":-0.30,"y":-0.59},{"x":-0.18,"y":-0.54},{"x":-0.25,"y":-0.62},{"x":-0.11,"y":-0.59},{"x":-0.02,"y":-0.50},
{"x":0.01,"y":-0.52},{"x":0.07,"y":-0.61},{"x":0.18,"y":-0.59},{"x":0.29,"y":-0.50},{"x":0.40,"y":-0.47},{"x":0.32,"y":-0.55},{"x":0.61,"y":-0.60},{"x":0.52,"y":-0.51},{"x":0.72,"y":-0.53},{"x":0.63,"y":-0.62},{"x":0.76,"y":-0.58},{"x":0.89,"y":-0.46},{"x":1.00,"y":-0.49},{"x":1.08,"y":-0.56},{"x":1.20,"y":-0.57},{"x":1.11,"y":-0.48},
{"x":-1.21,"y":-0.76},{"x":-1.12,"y":-0.67},{"x":-0.99,"y":-0.72},{"x":-1.08,"y":-0.63},{"x":-0.88,"y":-0.61},{"x":-0.76,"y":-0.74},{"x":-0.64,"y":-0.69},{"x":-0.71,"y":-0.77},{"x":-0.57,"y":-0.74},{"x":-0.48,"y":-0.65},{"x":-0.36,"y":-0.62},{"x":-0.45,"y":-0.68},{"x":-0.28,"y":-0.64},{"x":-0.19,"y":-0.75},{"x":-0.01,"y":-0.71},{"x":-0.09,"y":-0.63},
{"x":0.15,"y":-0.75},{"x":0.06,"y":-0.66},{"x":0.26,"y":-0.68},{"x":0.17,"y":-0.77},{"x":0.30,"y":-0.73},{"x":0.43,"y":-0.61},{"x":0.54,"y":-0.64},{"x":0.62,"y":-0.71},{"x":0.74,"y":-0.72},{"x":0.65,"y":-0.63},{"x":0.77,"y":-0.67},{"x":0.83,"y":-0.76},{"x":0.95,"y":-0.74},{"x":1.06,"y":-0.65},{"x":1.17,"y":-0.62},{"x":1.09,"y":-0.70},
{"x":-1.10,"y":-0.84},{"x":-1.17,"y":-0.92},{"x":-1.03,"y":-0.89},{"x":-0.94,"y":-0.80},{"x":-0.82,"y":-0.77},{"x":-0.91,"y":-0.83},{"x":-0.74,"y":-0.79},{"x":-0.65,"y":-0.90},{"x":-0.47,"y":-0.86},{"x":-0.55,"y":-0.78},{"x":-0.44,"y":-0.91},{"x":-0.35,"y":-0.82},{"x":-0.22,"y":-0.87},{"x":-0.31,"y":-0.78},{"x":-0.12,"y":-0.76},{"x":0.00,"y":-0.89},
{"x":0.08,"y":-0.79},{"x":0.16,"y":-0.86},{"x":0.28,"y":-0.87},{"x":0.19,"y":-0.78},{"x":0.31,"y":-0.82},{"x":0.37,"y":-0.91},{"x":0.49,"y":-0.89},{"x":0.60,"y":-0.80},{"x":0.71,"y":-0.77},{"x":0.63,"y":-0.85},{"x":0.91,"y":-0.90},{"x":0.82,"y":-0.81},{"x":1.03,"y":-0.83},{"x":0.94,"y":-0.92},{"x":1.07,"y":-0.88},{"x":1.20,"y":-0.76},
{"x":-1.20,"y":-0.95},{"x":-1.11,"y":-1.06},{"x":-0.93,"y":-1.02},{"x":-1.01,"y":-0.94},{"x":-0.90,"y":-1.07},{"x":-0.81,"y":-0.98},{"x":-0.68,"y":-1.03},{"x":-0.77,"y":-0.94},{"x":-0.58,"y":-0.92},{"x":-0.46,"y":-1.05},{"x":-0.33,"y":-1.00},{"x":-0.40,"y":-1.08},{"x":-0.26,"y":-1.05},{"x":-0.17,"y":-0.96},{"x":-0.06,"y":-0.93},{"x":-0.15,"y":-0.99},
{"x":0.03,"y":-1.05},{"x":0.14,"y":-0.96},{"x":0.25,"y":-0.93},{"x":0.17,"y":-1.01},{"x":0.45,"y":-1.06},{"x":0.36,"y":-0.97},{"x":0.57,"y":-0.99},{"x":0.48,"y":-1.08},{"x":0.61,"y":-1.04},{"x":0.74,"y":-0.92},{"x":0.84,"y":-0.95},{"x":0.92,"y":-1.02},{"x":1.05,"y":-1.03},{"x":0.96,"y":-0.94},{"x":1.08,"y":-0.98},{"x":1.14,"y":-1.07},
{"x":-1.14,"y":-1.18},{"x":-1.23,"y":-1.09},{"x":-1.04,"y":-1.07},{"x":-0.92,"y":-1.20},{"x":-0.79,"y":-1.15},{"x":-0.86,"y":-1.23},{"x":-0.72,"y":-1.20},{"x":-0.63,"y":-1.11},{"x":-0.52,"y":-1.08},{"x":-0.61,"y":-1.14},{"x":-0.43,"y":-1.10},{"x":-0.34,"y":-1.21},{"x":-0.16,"y":-1.17},{"x":-0.24,"y":-1.09},{"x":-0.14,"y":-1.22},{"x":-0.05,"y":-1.13},
{"x":0.11,"y":-1.14},{"x":0.02,"y":-1.23},{"x":0.15,"y":-1.19},{"x":0.28,"y":-1.07},{"x":0.38,"y":-1.10},{"x":0.46,"y":-1.17},{"x":0.59,"y":-1.18},{"x":0.50,"y":-1.09},{"x":0.62,"y":-1.13},{"x":0.68,"y":-1.22},{"x":0.79,"y":-1.20},{"x":0.90,"y":-1.11},{"x":1.02,"y":-1.07},{"x":0.94,"y":-1.16},{"x":1.22,"y":-1.21},{"x":1.13,"y":-1.12},
{"x":-1.33,"y":0.58},{"x":-1.30,"y":1.14},{"x":-1.33,"y":-0.41},{"x":0.15,"y":-1.38},{"x":-1.25,"y":-1.30},{"x":-1.12,"y":1.29},{"x":0.87,"y":1.27},{"x":1.27,"y":0.98},{"x":1.28,"y":-0.30},{"x":1.26,"y":0.60},{"x":-0.62,"y":-1.30}
]
},
"hconcat":[
{"width":274,"height":276,
"title":{"text":"a) QPSK","orient":"bottom","frame":"group","font":"Liberation Serif","fontSize":28,"fontWeight":"normal","color":"#000000","offset":46,"dx":-6},
"layer":[
{"data":{"name":"q"},"mark":{"type":"point","filled":true,"size":28,"color":"#0000ff","opacity":1},
"encoding":{"x":{"field":"x","type":"quantitative","scale":{"domain":[-1.5,1.5],"nice":false,"zero":false},"axis":{"values":[-1.5,-1,-0.5,0,0.5,1,1.5],"labelExpr":"'' + datum.value","title":"In-Phase"}},
"y":{"field":"y","type":"quantitative","scale":{"domain":[-1.5,1.5],"nice":false,"zero":false},"axis":{"values":[-1.5,-1,-0.5,0,0.5,1,1.5],"labelExpr":"'' + datum.value","title":"Quadrature"}}}},
{"data":{"name":"q"},"mark":{"type":"point","opacity":0},
"encoding":{"x":{"field":"x","type":"quantitative","axis":{"orient":"top","values":[-1.5,-1,-0.5,0,0.5,1,1.5],"labels":false,"title":null}},
"y":{"field":"y","type":"quantitative","axis":{"orient":"right","values":[-1.5,-1,-0.5,0,0.5,1,1.5],"labels":false,"title":null}}}}
],
"resolve":{"axis":{"x":"independent","y":"independent"}}},
{"width":274,"height":276,
"title":{"text":"b) 64QAM","orient":"bottom","frame":"group","font":"Liberation Serif","fontSize":28,"fontWeight":"normal","color":"#000000","offset":46,"dx":-6},
"layer":[
{"data":{"name":"m"},"mark":{"type":"point","filled":true,"size":17,"color":"#0000ff","opacity":1},
"encoding":{"x":{"field":"x","type":"quantitative","scale":{"domain":[-1.5,1.5],"nice":false,"zero":false},"axis":{"values":[-1.5,-1,-0.5,0,0.5,1,1.5],"labelExpr":"'' + datum.value","title":"In-Phase"}},
"y":{"field":"y","type":"quantitative","scale":{"domain":[-1.5,1.5],"nice":false,"zero":false},"axis":{"values":[-1.5,-1,-0.5,0,0.5,1,1.5],"labelExpr":"'' + datum.value","title":"Quadrature"}}}},
{"data":{"name":"m"},"mark":{"type":"point","opacity":0},
"encoding":{"x":{"field":"x","type":"quantitative","axis":{"orient":"top","values":[-1.5,-1,-0.5,0,0.5,1,1.5],"labels":false,"title":null}},
"y":{"field":"y","type":"quantitative","axis":{"orient":"right","values":[-1.5,-1,-0.5,0,0.5,1,1.5],"labels":false,"title":null}}}}
],
"resolve":{"axis":{"x":"independent","y":"independent"}}},
{"width":274,"height":276,
"title":{"text":"c) 256QAM","orient":"bottom","frame":"group","font":"Liberation Serif","fontSize":28,"fontWeight":"normal","color":"#000000","offset":46,"dx":-6},
"layer":[
{"data":{"name":"s"},"mark":{"type":"point","filled":true,"size":19,"color":"#0000ff","opacity":1},
"encoding":{"x":{"field":"x","type":"quantitative","scale":{"domain":[-1.5,1.5],"nice":false,"zero":false},"axis":{"values":[-1.5,-1,-0.5,0,0.5,1,1.5],"labelExpr":"'' + datum.value","title":"In-Phase"}},
"y":{"field":"y","type":"quantitative","scale":{"domain":[-1.5,1.5],"nice":false,"zero":false},"axis":{"values":[-1.5,-1,-0.5,0,0.5,1,1.5],"labelExpr":"'' + datum.value","title":"Quadrature"}}}},
{"data":{"name":"s"},"mark":{"type":"point","opacity":0},
"encoding":{"x":{"field":"x","type":"quantitative","axis":{"orient":"top","values":[-1.5,-1,-0.5,0,0.5,1,1.5],"labels":false,"title":null}},
"y":{"field":"y","type":"quantitative","axis":{"orient":"right","values":[-1.5,-1,-0.5,0,0.5,1,1.5],"labels":false,"title":null}}}}
],
"resolve":{"axis":{"x":"independent","y":"independent"}}}
]
}
